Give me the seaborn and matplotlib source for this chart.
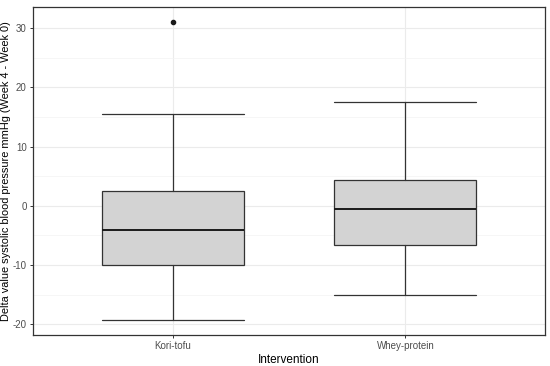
import matplotlib
matplotlib.use('Agg')
import matplotlib.pyplot as plt
import seaborn as sns

# values (mmHg, week 4 - week 0)
groups = ['Kori-tofu', 'Whey-protein']
whisker_low = [-19.3, -15.0]
q1 = [-10.0, -6.6]
median = [-4.0, -0.5]
q3 = [2.5, 4.3]
whisker_high = [15.5, 17.5]
outliers = [[31.0], []]

sns.set_theme(style='whitegrid')
plt.rcParams['font.family'] = ['Liberation Sans', 'DejaVu Sans']
plt.rcParams['axes.unicode_minus'] = False

stats = []
for i, g in enumerate(groups):
    stats.append({
        'label': g, 'whislo': whisker_low[i], 'q1': q1[i], 'med': median[i],
        'q3': q3[i], 'whishi': whisker_high[i], 'fliers': outliers[i],
    })

fig = plt.figure(figsize=(5.5, 3.66), dpi=100)
ax = fig.add_axes([0.06, 0.085, 0.931, 0.896])

line_col = '#333333'
ax.bxp(stats, positions=[1, 2], widths=0.61, capwidths=0.61, patch_artist=True,
       boxprops=dict(facecolor='#D3D3D3', edgecolor=line_col, linewidth=0.9),
       whiskerprops=dict(color=line_col, linewidth=0.9),
       capprops=dict(color=line_col, linewidth=0.9),
       medianprops=dict(color='#1a1a1a', linewidth=1.4),
       flierprops=dict(marker='o', markersize=3, markerfacecolor='#1a1a1a',
                       markeredgecolor='#1a1a1a'), zorder=3)

ax.set_xlim(0.4, 2.6)
ax.set_ylim(-21.8, 33.6)
ax.set_yticks([-20, -10, 0, 10, 20, 30])
ax.set_yticks([-15, -5, 5, 15, 25], minor=True)
ax.set_xticks([1, 2])
ax.set_xticklabels(groups)

ax.set_facecolor('white')
ax.grid(which='major', color='#EBEBEB', linewidth=0.8)
ax.grid(which='minor', axis='y', color='#F3F3F3', linewidth=0.5)
ax.set_axisbelow(True)
for s in ax.spines.values():
    s.set_visible(True)
    s.set_color(line_col)
    s.set_linewidth(0.9)

ax.tick_params(axis='both', which='major', length=2.5, width=0.7, color=line_col,
               labelsize=7, labelcolor='#4D4D4D', pad=2, bottom=True, left=True)
ax.tick_params(axis='y', which='minor', length=0)

ax.set_xlabel('Intervention', fontsize=8.5, color='black', labelpad=2)
ax.set_ylabel('Delta value systolic blood pressure mmHg (Week 4 - Week 0)',
              fontsize=7.9, color='black', labelpad=1.5)

fig.savefig('out.png', dpi=100)
plt.close(fig)
